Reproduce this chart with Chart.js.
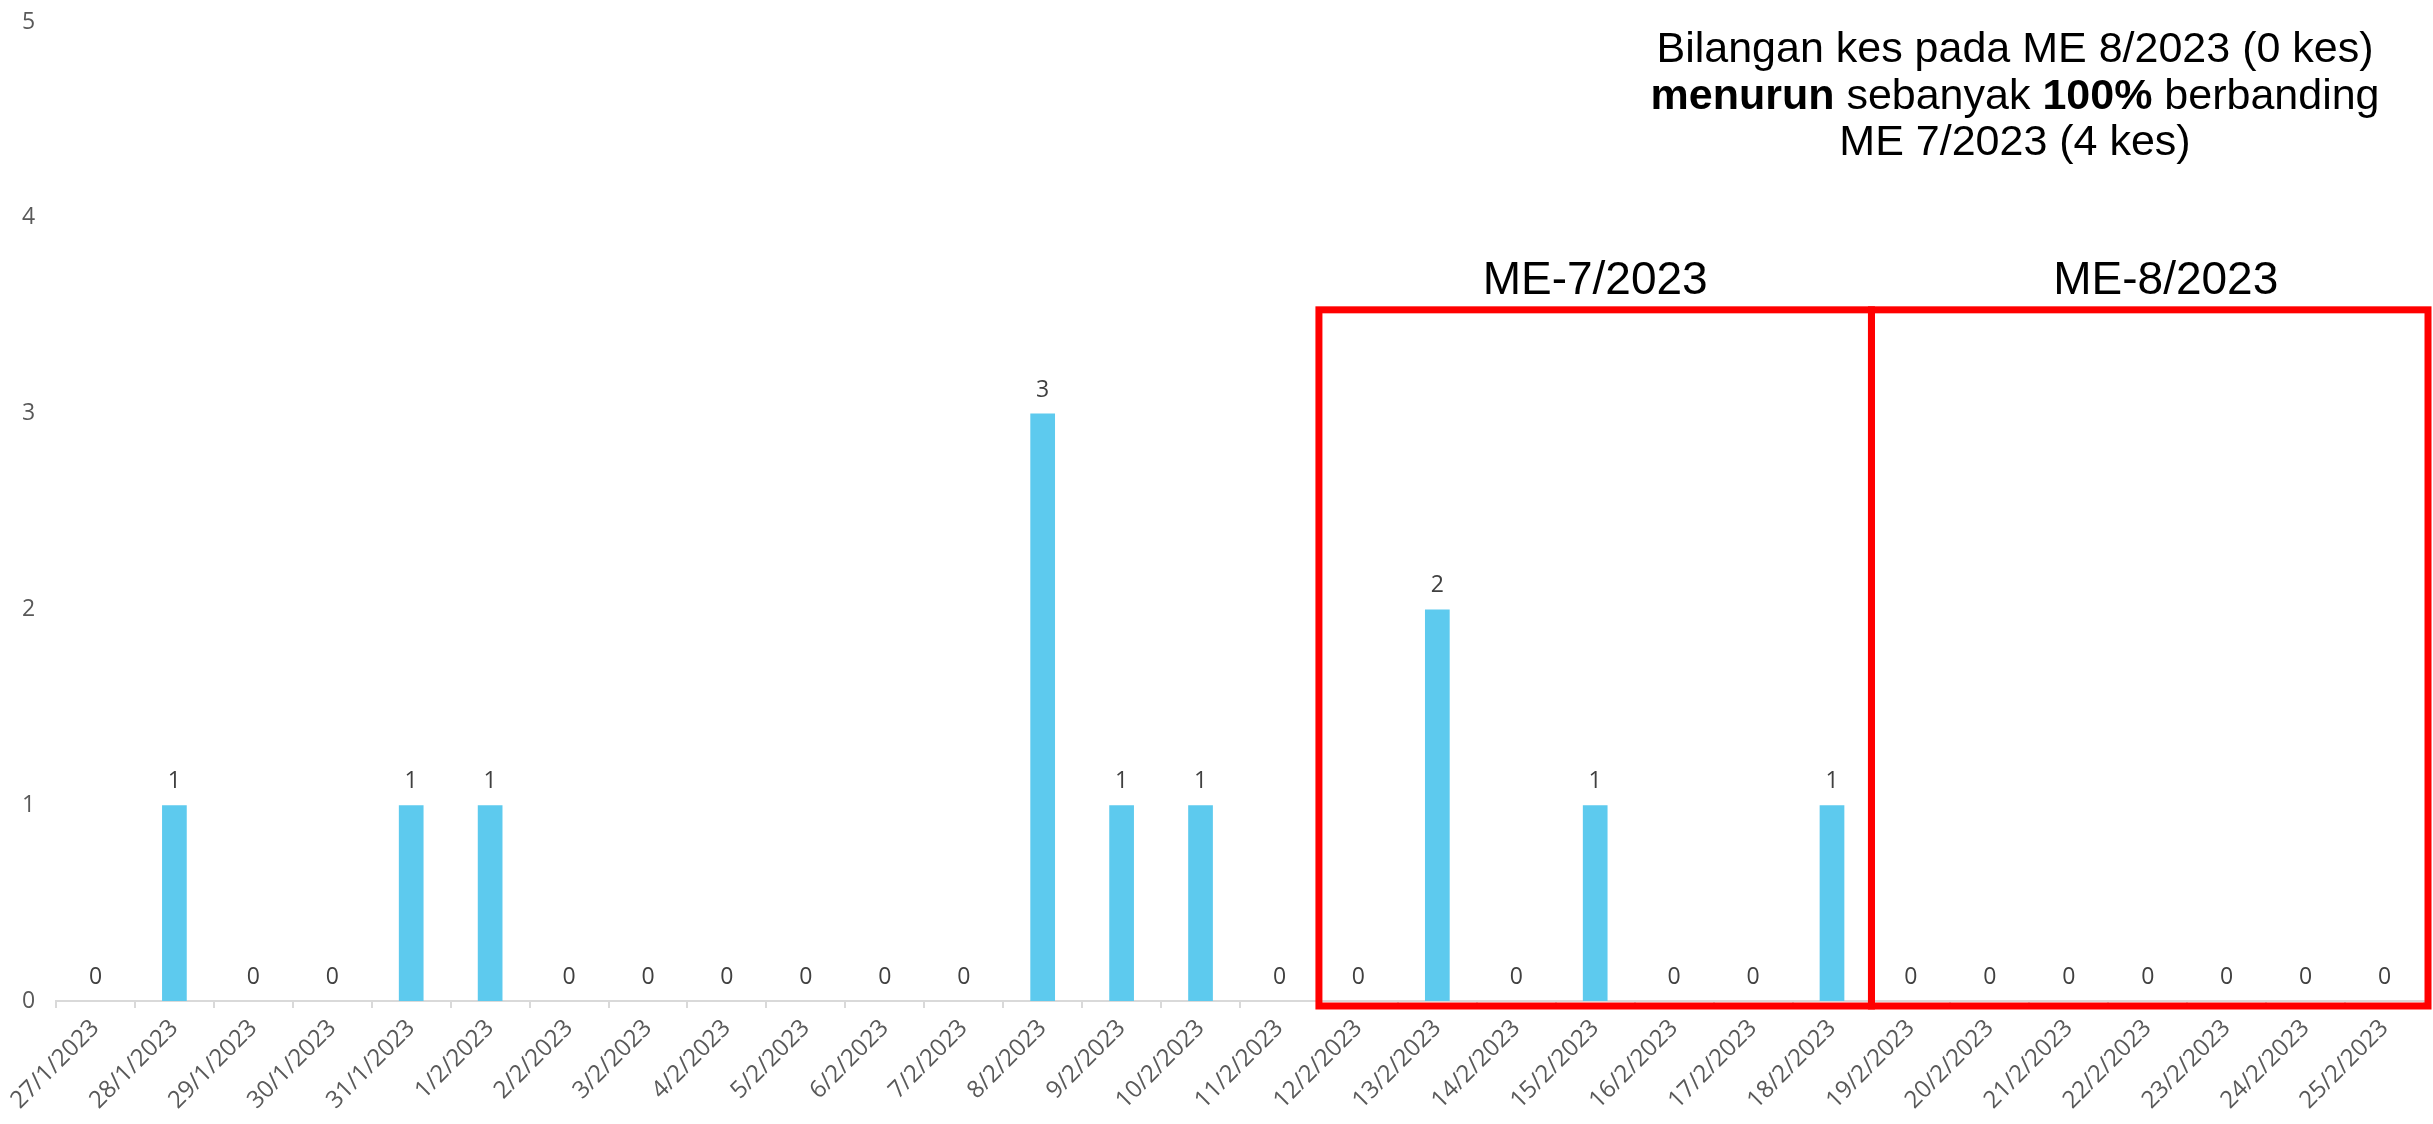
<!DOCTYPE html>
<html>
<head>
<meta charset="utf-8">
<script src="https://cdn.jsdelivr.net/npm/chart.js@4.4.0/dist/chart.umd.min.js"></script>
<style>
  html, body { margin: 0; padding: 0; background: #ffffff; }
  #wrap { width: 2433px; height: 1124px; position: relative; }
</style>
</head>
<body>
<div id="wrap"><canvas id="c"></canvas></div>
<script>
// ---------- DATA ----------
const categories = [
  '27/1/2023','28/1/2023','29/1/2023','30/1/2023','31/1/2023',
  '1/2/2023','2/2/2023','3/2/2023','4/2/2023','5/2/2023','6/2/2023','7/2/2023',
  '8/2/2023','9/2/2023','10/2/2023','11/2/2023','12/2/2023','13/2/2023','14/2/2023',
  '15/2/2023','16/2/2023','17/2/2023','18/2/2023','19/2/2023','20/2/2023','21/2/2023',
  '22/2/2023','23/2/2023','24/2/2023','25/2/2023'
];
const cases = [
  0, 1, 0, 0, 1,
  1, 0, 0, 0, 0, 0, 0,
  3, 1, 1, 0, 0, 2, 0,
  1, 0, 0, 1, 0, 0, 0,
  0, 0, 0, 0
];
const yTicks = [0, 1, 2, 3, 4, 5];
const periodLabels = ['ME-7/2023', 'ME-8/2023'];
const periodFrom = ['12/2/2023', '19/2/2023'];
const periodTo = ['18/2/2023', '25/2/2023'];
const noteLines = [
  [{ t: 'Bilangan kes pada ME 8/2023 (0 kes)', b: false }],
  [{ t: 'menurun', b: true }, { t: ' sebanyak ', b: false }, { t: '100%', b: true }, { t: ' berbanding', b: false }],
  [{ t: 'ME 7/2023 (4 kes)', b: false }]
];

// ---------- PLUGINS ----------
const valueLabels = {
  id: 'valueLabels',
  afterDatasetsDraw(chart) {
    const ctx = chart.ctx;
    const meta = chart.getDatasetMeta(0);
    ctx.save();
    ctx.font = '23px "Open Sans"';
    ctx.fillStyle = '#404040';
    ctx.textAlign = 'center';
    ctx.textBaseline = 'alphabetic';
    meta.data.forEach((el, i) => {
      ctx.fillText(String(cases[i]), el.x, el.y - 17);
    });
    ctx.restore();
  }
};

const periodBoxes = {
  id: 'periodBoxes',
  afterDatasetsDraw(chart, args, opts) {
    const ctx = chart.ctx;
    const xs = chart.scales.x, ys = chart.scales.y;
    const half = (xs.getPixelForValue(1) - xs.getPixelForValue(0)) / 2;
    const top = ys.getPixelForValue(opts.topValue);
    const bottom = ys.getPixelForValue(0) + opts.bottomOffset;
    ctx.save();
    ctx.strokeStyle = '#FF0000';
    ctx.lineWidth = opts.lineWidth;
    ctx.lineJoin = 'miter';
    periodLabels.forEach((lab, k) => {
      const i0 = categories.indexOf(periodFrom[k]);
      const i1 = categories.indexOf(periodTo[k]);
      const x0 = xs.getPixelForValue(i0) - half;
      const x1 = xs.getPixelForValue(i1) + half + (k === periodLabels.length - 1 ? opts.lastExtra : 0);
      ctx.strokeRect(x0, top, x1 - x0, bottom - top);
      ctx.fillStyle = '#000000';
      ctx.font = opts.labelFont;
      ctx.textAlign = 'center';
      ctx.textBaseline = 'alphabetic';
      ctx.fillText(lab, (x0 + x1) / 2 + opts.labelDx[k], top - opts.labelGap);
    });
    ctx.restore();
  }
};

const noteText = {
  id: 'noteText',
  afterDraw(chart, args, opts) {
    const ctx = chart.ctx;
    ctx.save();
    ctx.fillStyle = '#000000';
    ctx.textBaseline = 'alphabetic';
    ctx.textAlign = 'left';
    const fontFor = b => (b ? 'bold ' : '') + opts.size + 'px "Liberation Sans", Arial, sans-serif';
    noteLines.forEach((parts, li) => {
      let w = 0;
      parts.forEach(p => { ctx.font = fontFor(p.b); w += ctx.measureText(p.t).width; });
      let x = opts.centerX - w / 2;
      const y = opts.firstBaseline + li * opts.lineGap;
      parts.forEach(p => {
        ctx.font = fontFor(p.b);
        ctx.fillText(p.t, x, y);
        x += ctx.measureText(p.t).width;
      });
    });
    ctx.restore();
  }
};

// ---------- CHART ----------
new Chart(document.getElementById('c'), {
  type: 'bar',
  data: {
    labels: categories,
    datasets: [{
      data: cases,
      backgroundColor: '#5DCAEE',
      borderWidth: 0,
      barPercentage: 0.313,
      categoryPercentage: 1.0
    }]
  },
  options: {
    responsive: true,
    maintainAspectRatio: false,
    animation: false,
    layout: { padding: { top: 22, right: 9, left: 22, bottom: 0 } },
    plugins: {
      legend: { display: false },
      tooltip: { enabled: false },
      periodBoxes: { topValue: 3.53, bottomOffset: 5, lineWidth: 7, labelGap: 16, lastExtra: 4, labelDx: [0, 16], labelFont: '46px "Liberation Sans", Arial, sans-serif' },
      noteText: { centerX: 2015, firstBaseline: 62, lineGap: 46.5, size: 43 }
    },
    scales: {
      x: {
        grid: { display: true, drawOnChartArea: false, drawTicks: true, tickLength: 7, color: '#D9D9D9', lineWidth: 2, offset: true },
        border: { display: true, color: '#D9D9D9', width: 2 },
        ticks: {
          autoSkip: false, maxRotation: 45, minRotation: 45,
          font: { family: 'Open Sans', size: 24 }, color: '#595959', padding: 6
        },
        afterFit: s => { s.height = 123; }
      },
      y: {
        min: 0, max: 5,
        grid: { display: false, drawTicks: false },
        border: { display: false },
        ticks: { font: { family: 'Open Sans', size: 23 }, color: '#595959', padding: 0, crossAlign: 'far' },
        afterBuildTicks: s => { s.ticks = yTicks.map(v => ({ value: v })); },
        afterFit: s => { s.width = 34; }
      }
    }
  },
  plugins: [valueLabels, periodBoxes, noteText]
});
</script>
</body>
</html>
